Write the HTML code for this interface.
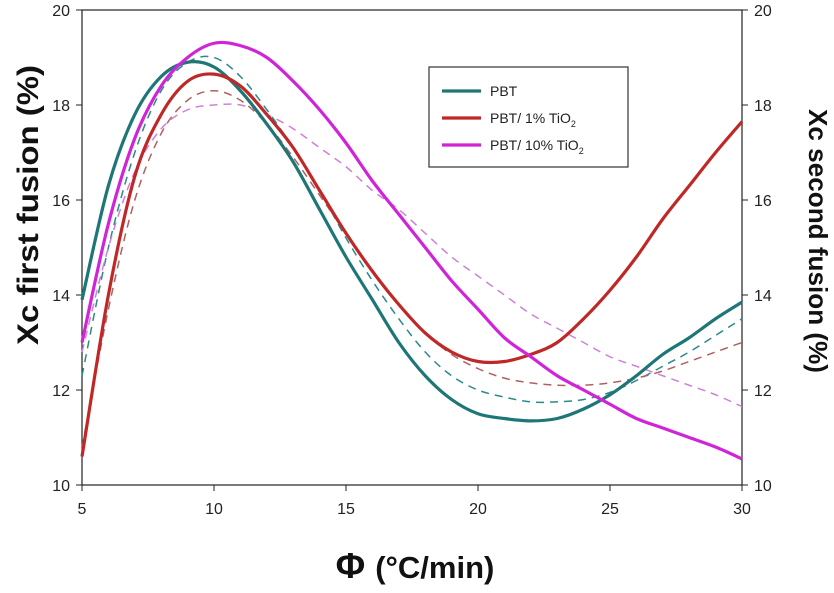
<!DOCTYPE html>
<html><head><meta charset="utf-8"><style>
body{margin:0;background:#fff;width:834px;height:588px;overflow:hidden}
svg text{font-family:"Liberation Sans",sans-serif}
</style></head><body>
<svg id="chart" width="834" height="588">
<g id="axes"></g><g id="series"></g>
<rect x="429" y="67" width="199" height="100" fill="#fff" stroke="#333" stroke-width="1.2"/>
<g id="legend"></g>
<text x="38" y="205" transform="rotate(-90 38 205)" text-anchor="middle" font-size="30" font-weight="bold" fill="#111" textLength="280" lengthAdjust="spacingAndGlyphs">Xc first fusion (%)</text>
<text x="809" y="241" transform="rotate(90 809 241)" text-anchor="middle" font-size="26" font-weight="bold" fill="#111" textLength="264" lengthAdjust="spacingAndGlyphs">Xc second fusion (%)</text>
<text x="415" y="578" text-anchor="middle" font-size="36" font-weight="bold" fill="#111">Φ <tspan font-size="31">(°C/min)</tspan></text>
</svg>
<script>
const xVals=[5,6,7,8,9,10,11,12,13,14,15,16,17,18,19,20,21,22,23,24,25,26,27,28,29,30];
const pbtSolid=[13.9,16.3,17.8,18.6,18.9,18.8,18.3,17.6,16.8,15.8,14.8,13.9,13.0,12.3,11.8,11.5,11.4,11.35,11.4,11.6,11.9,12.3,12.75,13.1,13.5,13.85];
const tio1Solid=[10.6,14.0,16.5,17.8,18.5,18.65,18.4,17.8,17.1,16.2,15.3,14.5,13.8,13.2,12.8,12.6,12.6,12.75,13.0,13.5,14.1,14.8,15.6,16.3,17.0,17.65];
const tio10Solid=[13.0,15.5,17.3,18.4,19.0,19.3,19.25,19.0,18.5,17.9,17.2,16.4,15.7,15.0,14.3,13.7,13.1,12.7,12.3,12.0,11.7,11.4,11.2,11.0,10.8,10.55];
const pbtDash=[12.3,15.0,17.0,18.3,18.9,19.0,18.6,17.9,17.1,16.2,15.2,14.3,13.5,12.8,12.3,12.0,11.85,11.75,11.75,11.8,11.95,12.2,12.5,12.8,13.15,13.5];
const tio1Dash=[10.8,13.7,16.0,17.4,18.1,18.3,18.1,17.6,16.9,16.1,15.3,14.5,13.8,13.2,12.75,12.45,12.25,12.15,12.1,12.1,12.15,12.25,12.4,12.6,12.8,13.0];
const tio10Dash=[12.8,15.0,16.6,17.5,17.9,18.0,18.0,17.8,17.5,17.1,16.7,16.2,15.8,15.3,14.8,14.4,14.0,13.6,13.3,13.0,12.7,12.5,12.3,12.1,11.9,11.65];
const xTicks=[5,10,15,20,25,30];
const yTicks=[10,12,14,16,18,20];
const legendLabels=["PBT","PBT/ 1% TiO","PBT/ 10% TiO"];

const NS="http://www.w3.org/2000/svg";
const X0=82,X1=742,Y0=485,Y1=10;
const sx=v=>X0+(v-5)/25*(X1-X0);
const sy=v=>Y0-(v-10)/10*(Y0-Y1);
function mk(t,a,p){const e=document.createElementNS(NS,t);for(const k in a)e.setAttribute(k,a[k]);p.appendChild(e);return e;}
const axes=document.getElementById('axes');
const frame=mk('rect',{x:X0,y:Y1,width:X1-X0,height:Y0-Y1,fill:'none',stroke:'#222','stroke-width':1.2},axes);


xTicks.forEach(t=>{
 const l=mk('line',{x1:sx(t),x2:sx(t),y1:Y0,y2:Y0+6,stroke:'#222'},axes);
 
 
 const tx=mk('text',{x:sx(t),y:Y0+29,'text-anchor':'middle','font-size':16,fill:'#222'},axes);tx.textContent=t;
 
 
});
yTicks.forEach(t=>{
 const l=mk('line',{x1:X0-6,x2:X0,y1:sy(t),y2:sy(t),stroke:'#222'},axes);
 
 
 const l2=mk('line',{x1:X1,x2:X1+6,y1:sy(t),y2:sy(t),stroke:'#222'},axes);
 
 
 const a=mk('text',{x:X0-12,y:sy(t)+6,'text-anchor':'end','font-size':16,fill:'#222'},axes);a.textContent=t;
 
 
 const b=mk('text',{x:X1+12,y:sy(t)+6,'text-anchor':'start','font-size':16,fill:'#222'},axes);b.textContent=t;
 
 
});
function pathD(ys){
 const p=xVals.map((x,i)=>[sx(x),sy(ys[i])]);
 let d='M'+p[0][0]+','+p[0][1];
 for(let i=0;i<p.length-1;i++){
  const p0=p[Math.max(0,i-1)],p1=p[i],p2=p[i+1],p3=p[Math.min(p.length-1,i+2)];
  const c1=[p1[0]+(p2[0]-p0[0])/6,p1[1]+(p2[1]-p0[1])/6];
  const c2=[p2[0]-(p3[0]-p1[0])/6,p2[1]-(p3[1]-p1[1])/6];
  d+=` C${c1[0]},${c1[1]} ${c2[0]},${c2[1]} ${p2[0]},${p2[1]}`;
 }
 return d;
}
const ser=document.getElementById('series');
const defs=[
 [pbtDash,'#2a8a8a',1.5,'8,6','pbt-second-fusion-line'],
 [tio1Dash,'#b06060',1.5,'8,6','tio2-1-second-fusion-line'],
 [tio10Dash,'#d080d8',1.5,'8,6','tio2-10-second-fusion-line'],
 [pbtSolid,'#1e7676',3.2,null,'pbt-first-fusion-line'],
 [tio1Solid,'#c02828',3.2,null,'tio2-1-first-fusion-line'],
 [tio10Solid,'#d024d8',3.2,null,'tio2-10-first-fusion-line']];
defs.forEach(s=>{
 const a={d:pathD(s[0]),fill:'none',stroke:s[1],'stroke-width':s[2],'stroke-linejoin':'round'};
 if(s[3])a['stroke-dasharray']=s[3];
 const e=mk('path',a,ser);
 
 
});
const lg=document.getElementById('legend');
const lc=['#1e7676','#c02828','#d024d8'];
legendLabels.forEach((t,i)=>{
 const y=91+i*27;
 const l=mk('line',{x1:442,x2:481,y1:y,y2:y,stroke:lc[i],'stroke-width':3.2},lg);
 
 
 const tx=mk('text',{x:490,y:y+5,'font-size':14,fill:'#222'},lg);
 tx.textContent=t;
 if(i>0){const s=mk('tspan',{'font-size':9,dy:4},tx);s.textContent='2';}
 
 
});
</script>
</body></html>
